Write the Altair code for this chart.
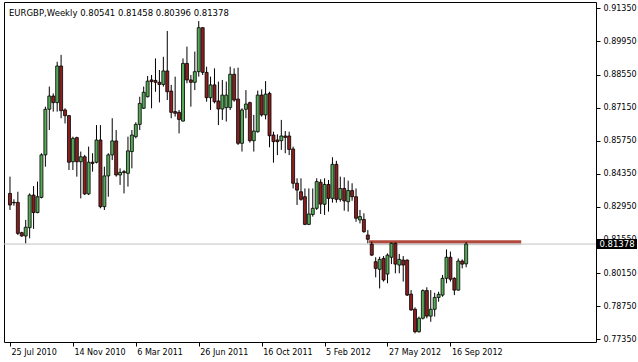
import altair as alt
import pandas as pd

# ---- data (EURGBP weekly) ----
opens = [0.8352, 0.8314, 0.8314, 0.8186, 0.8172, 0.8207, 0.8345, 0.8271, 0.8335, 0.8515,
         0.8708, 0.8764, 0.8736, 0.8891, 0.8705, 0.8681, 0.8486, 0.8588, 0.8486, 0.8507,
         0.8350, 0.8484, 0.8484, 0.8578, 0.8296, 0.8426, 0.8515, 0.8574, 0.8430, 0.8444,
         0.8437, 0.8529, 0.8592, 0.8644, 0.8712, 0.8761, 0.8832, 0.8830, 0.8822, 0.8813,
         0.8870, 0.8785, 0.8698, 0.8695, 0.8658, 0.8902, 0.8832, 0.8822, 0.8867, 0.9053,
         0.8864, 0.8757, 0.8811, 0.8743, 0.8709, 0.8715, 0.8715, 0.8856, 0.8751, 0.8564,
         0.8708, 0.8736, 0.8575, 0.8613, 0.8768, 0.8684, 0.8775, 0.8599, 0.8578, 0.8575,
         0.8595, 0.8595, 0.8540, 0.8395, 0.8359, 0.8338, 0.8221, 0.8263, 0.8289, 0.8399,
         0.8306, 0.8390, 0.8331, 0.8475, 0.8327, 0.8373, 0.8317, 0.8364, 0.8338, 0.8240,
         0.8242, 0.8176, 0.8137, 0.8063, 0.8031, 0.8077, 0.8011, 0.8082, 0.8141, 0.8049,
         0.8070, 0.8070, 0.7926, 0.7862, 0.7767, 0.7824, 0.7941, 0.7833, 0.7862, 0.7912,
         0.7922, 0.7993, 0.8082, 0.7993, 0.7943, 0.8066, 0.80541]
highs = [0.8423, 0.8327, 0.8359, 0.8190, 0.8240, 0.8352, 0.8383, 0.8402, 0.8522, 0.8719,
         0.8804, 0.8775, 0.8909, 0.8938, 0.8712, 0.8684, 0.8592, 0.8592, 0.8529, 0.8515,
         0.8550, 0.8522, 0.8641, 0.8641, 0.8465, 0.8522, 0.8670, 0.8620, 0.8458, 0.8451,
         0.8592, 0.8620, 0.8653, 0.8761, 0.8804, 0.8849, 0.8853, 0.8923, 0.8874, 0.8930,
         0.9039, 0.8811, 0.8846, 0.8705, 0.8923, 0.8973, 0.8853, 0.8952, 0.9081, 0.9055,
         0.8888, 0.8846, 0.8881, 0.8825, 0.8832, 0.8825, 0.8888, 0.8881, 0.8884, 0.8712,
         0.8789, 0.8740, 0.8684, 0.8787, 0.8792, 0.8827, 0.8782, 0.8613, 0.8602, 0.8663,
         0.8616, 0.8613, 0.8550, 0.8416, 0.8416, 0.8373, 0.8373, 0.8373, 0.8416, 0.8412,
         0.8416, 0.8409, 0.8505, 0.8490, 0.8423, 0.8420, 0.8406, 0.8395, 0.8373, 0.8282,
         0.8268, 0.8197, 0.8148, 0.8082, 0.8084, 0.8087, 0.8098, 0.8144, 0.8144, 0.8096,
         0.8087, 0.8073, 0.7943, 0.7870, 0.7831, 0.7946, 0.7955, 0.7943, 0.7932, 0.7936,
         0.8007, 0.8115, 0.8106, 0.7997, 0.8077, 0.8073, 0.81458]
lows = [0.8282, 0.8300, 0.8176, 0.8169, 0.8141, 0.8162, 0.8202, 0.8268, 0.8331, 0.8465,
        0.8620, 0.8698, 0.8698, 0.8670, 0.8648, 0.8451, 0.8451, 0.8423, 0.8331, 0.8345,
        0.8345, 0.8444, 0.8479, 0.8289, 0.8282, 0.8338, 0.8493, 0.8423, 0.8388, 0.8352,
        0.8381, 0.8458, 0.8585, 0.8620, 0.8709, 0.8758, 0.8712, 0.8782, 0.8737, 0.8804,
        0.8747, 0.8670, 0.8677, 0.8606, 0.8656, 0.8818, 0.8719, 0.8789, 0.8846, 0.8853,
        0.8740, 0.8705, 0.8733, 0.8641, 0.8663, 0.8656, 0.8705, 0.8740, 0.8557, 0.8529,
        0.8670, 0.8567, 0.8529, 0.8609, 0.8677, 0.8665, 0.8547, 0.8482, 0.8514, 0.8536,
        0.8522, 0.8514, 0.8373, 0.8303, 0.8321, 0.8218, 0.8218, 0.8254, 0.8282, 0.8265,
        0.8261, 0.8275, 0.8313, 0.8313, 0.8317, 0.8279, 0.8275, 0.8321, 0.8232, 0.8225,
        0.8186, 0.8141, 0.8087, 0.7997, 0.7950, 0.7979, 0.7972, 0.8053, 0.8014, 0.8014,
        0.7979, 0.7918, 0.7856, 0.7760, 0.7763, 0.7819, 0.7824, 0.7809, 0.7831, 0.7894,
        0.7915, 0.7972, 0.7979, 0.7922, 0.7941, 0.8035, 0.80396]
closes = [0.8303, 0.8312, 0.8183, 0.8172, 0.8209, 0.8345, 0.8271, 0.8338, 0.8515, 0.8708,
          0.8764, 0.8736, 0.8891, 0.8702, 0.8681, 0.8484, 0.8585, 0.8486, 0.8507, 0.8350,
          0.8484, 0.8479, 0.8578, 0.8296, 0.8426, 0.8515, 0.8574, 0.8430, 0.8441, 0.8440,
          0.8532, 0.8599, 0.8644, 0.8733, 0.8780, 0.8827, 0.8825, 0.8822, 0.8813, 0.8870,
          0.8782, 0.8695, 0.8691, 0.8665, 0.8902, 0.8832, 0.8822, 0.8867, 0.9053, 0.8864,
          0.8757, 0.8811, 0.8740, 0.8709, 0.8768, 0.8768, 0.8856, 0.8747, 0.8564, 0.8705,
          0.8730, 0.8575, 0.8616, 0.8768, 0.8684, 0.8772, 0.8596, 0.8571, 0.8571, 0.8595,
          0.8589, 0.8538, 0.8395, 0.8366, 0.8327, 0.8221, 0.8265, 0.8289, 0.8402, 0.8307,
          0.8390, 0.8331, 0.8475, 0.8327, 0.8373, 0.8320, 0.8364, 0.8338, 0.8247, 0.8254,
          0.8190, 0.8158, 0.8091, 0.8035, 0.8073, 0.7986, 0.8091, 0.8141, 0.8053, 0.8073,
          0.8049, 0.7922, 0.7859, 0.7767, 0.7824, 0.7941, 0.7833, 0.7862, 0.7912, 0.7925,
          0.7993, 0.8082, 0.7989, 0.7943, 0.8066, 0.8053, 0.81378]

date_labels = ["25 Jul 2010", "14 Nov 2010", "6 Mar 2011", "26 Jun 2011",
               "16 Oct 2011", "5 Feb 2012", "27 May 2012", "16 Sep 2012"]
date_label_bars = [0, 16, 32, 48, 64, 80, 96, 112]
price_ticks = [0.7735, 0.7875, 0.8015, 0.8155, 0.8295, 0.8435,
               0.8575, 0.8715, 0.8855, 0.8995, 0.9135]

level_price = 0.8148
level_start_bar = 91.3
level_end_bar = 130.0

symbol_title = "EURGBP,Weekly"

# ---- tables ----
df = pd.DataFrame({
    "bar": list(range(len(opens))),
    "open": opens, "high": highs, "low": lows, "close": closes,
})
df["dir"] = ["up" if c >= o else "down" for o, c in zip(opens, closes)]

last = df.iloc[[-1]].copy()
level_df = pd.DataFrame({"x1": [level_start_bar], "x2": [level_end_bar], "p": [level_price]})
title_df = pd.DataFrame({"t": [f"{symbol_title}  {opens[-1]:.5f} {highs[-1]:.5f} {lows[-1]:.5f} {closes[-1]:.5f}"]})

FONT = "DejaVu Sans"
xs = alt.Scale(domain=[-0.25, 147.75], nice=False, zero=False)
ys = alt.Scale(domain=[0.77235, 0.91617], nice=False, zero=False)

label_expr = " : ".join(
    f"datum.value == {b} ? '{t}'" for b, t in zip(date_label_bars, date_labels)
) + " : ''"

x_axis = alt.Axis(values=date_label_bars, labelExpr=label_expr, labelAlign="left",
                  labelFont=FONT, labelFontSize=8, labelColor="black", tickSize=4,
                  tickColor="black", domain=False, grid=False, title=None,
                  labelPadding=2, labelOffset=1, labelOverlap=False, labelFlush=False,
                  labelBound=False)
y_axis = alt.Axis(orient="right", values=price_ticks, format=".5f", labelFont=FONT,
                  labelFontSize=8, labelColor="black", tickSize=4, tickColor="black",
                  domain=False, grid=False, title=None, labelPadding=3,
                  labelOverlap=False, labelFlush=False, labelBound=False)


def X(field):
    return alt.X(field, type="quantitative", scale=xs, axis=x_axis)


def Y(field):
    return alt.Y(field, type="quantitative", scale=ys, axis=y_axis)


base = alt.Chart(df)

wicks = base.mark_rule(color="black", strokeWidth=1).encode(
    x=X("bar"), y=Y("low"), y2="high:Q",
)

bodies = base.mark_bar(size=3, stroke="black", strokeWidth=0.8).encode(
    x=X("bar"), y=Y("open"), y2="close:Q",
    color=alt.Color("dir:N", scale=alt.Scale(domain=["up", "down"], range=["#56a956", "#8b1f1f"]),
                    legend=None),
)

price_line = alt.Chart(last).mark_rule(color="#c4c4c4", strokeWidth=1).encode(
    y=Y("close")
)

level_shadow = alt.Chart(level_df).mark_rule(color="#bdbdbd", strokeWidth=3, opacity=0.6, yOffset=2).encode(
    x=X("x1"), x2="x2:Q", y=Y("p")
)
level = alt.Chart(level_df).mark_rule(color="#b24a3e", strokeWidth=3).encode(
    x=X("x1"), x2="x2:Q", y=Y("p")
)

box = alt.Chart(last).transform_calculate(
    lo="datum.close - 0.0021", hi="datum.close + 0.0021"
).mark_rect(color="black", clip=False).encode(
    x=alt.value(593), x2=alt.value(633),
    y=Y("lo"), y2="hi:Q",
)
box_text = alt.Chart(last).mark_text(color="white", font=FONT, fontSize=8.5, align="center",
                                     baseline="middle", clip=False).encode(
    x=alt.value(613), y=Y("close"),
    text=alt.Text("close:Q", format=".5f"),
)

title = alt.Chart(title_df).mark_text(font=FONT, fontSize=8.5, align="left", baseline="middle",
                                      color="black").encode(
    x=alt.value(5), y=alt.value(11), text="t:N"
)

chart = alt.layer(
    price_line, level_shadow, level, wicks, bodies, box, box_text, title
).properties(
    width=592, height=340,
    autosize=alt.AutoSizeParams(type="none"),
    padding={"left": 4, "top": 2, "right": 42, "bottom": 20},
    background="white",
).configure_view(stroke="black", strokeWidth=1)

chart.save("out.html", embed_options={"renderer": "svg", "actions": False})
